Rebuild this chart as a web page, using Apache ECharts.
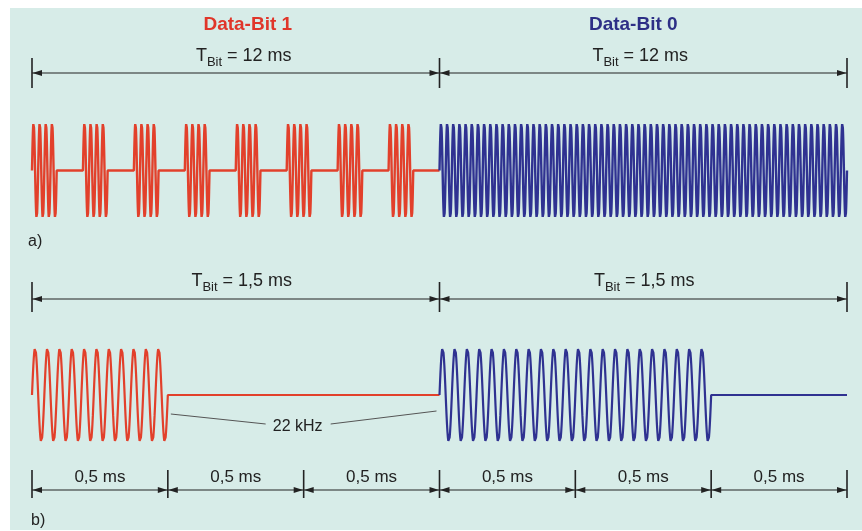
<!DOCTYPE html>
<html>
<head>
<meta charset="utf-8">
<script src="https://cdn.jsdelivr.net/npm/echarts@6/dist/echarts.min.js"></script>
<style>
html,body{margin:0;padding:0;background:#ffffff;}
#chart{width:862px;height:531px;}
</style>
</head>
<body>
<div id="chart"></div>
<script>
// ---------------- DATA ----------------
// Panel a): two bits of 12 ms each; the carrier runs at about 5.5 cycles per ms in the drawing
const bitTitles = ['Data-Bit 1', 'Data-Bit 0'];
const panelA_range = [0, 24];                 // ms
const panelA_carrierPerMs = 5.5;
const panelA_bit1BurstStarts = [0, 1.5, 3, 4.5, 6, 7.5, 9, 10.5]; // ms
const panelA_bit1BurstCycles = [4, 4, 4, 4, 4, 4, 4, 4];
const panelA_bit1End = 12;
const panelA_bit0BurstStarts = [12];
const panelA_bit0BurstCycles = [66];
const panelA_bit0End = 24;

// Panel b): two bits of 1.5 ms each; 22 kHz carrier
const panelB_range = [0, 3];                  // ms
const panelB_carrierPerMs = 22;               // 22 kHz
const panelB_bit1BurstStarts = [0];
const panelB_bit1BurstCycles = [11];
const panelB_bit1End = 1.5;
const panelB_bit0BurstStarts = [1.5];
const panelB_bit0BurstCycles = [22];
const panelB_bit0End = 3;

// Dimension lines (ms) and their labels
const dimA = [[0, 12], [12, 24]];
const dimALabels = ['12 ms', '12 ms'];
const dimBTop = [[0, 1.5], [1.5, 3]];
const dimBTopLabels = ['1,5 ms', '1,5 ms'];
const dimBBottom = [[0, 0.5], [0.5, 1], [1, 1.5], [1.5, 2], [2, 2.5], [2.5, 3]];
const dimBBottomLabels = ['0,5 ms', '0,5 ms', '0,5 ms', '0,5 ms', '0,5 ms', '0,5 ms'];
const carrierLabel = '22 kHz';
const panelLabels = ['a)', 'b)'];

// ---------------- BUILD ----------------
const RED = '#e2402b';
const BLUE = '#2f3291';
const INK = '#222222';
const FONT = '"Liberation Sans", Arial, Helvetica, sans-serif';
const BG = '#d7ece8';

function buildSignal(starts, cycles, f, end) {
  const pts = [];
  for (let i = 0; i < starts.length; i++) {
    const s = starts[i];
    const dur = cycles[i] / f;
    const n = cycles[i] * 28;
    for (let k = 0; k <= n; k++) {
      const t = s + dur * k / n;
      pts.push([t, Math.sin(2 * Math.PI * f * (t - s))]);
    }
    const next = i + 1 < starts.length ? starts[i + 1] : end;
    pts.push([next, 0]);
  }
  return pts;
}

const aRed = buildSignal(panelA_bit1BurstStarts, panelA_bit1BurstCycles, panelA_carrierPerMs, panelA_bit1End);
const aBlue = buildSignal(panelA_bit0BurstStarts, panelA_bit0BurstCycles, panelA_carrierPerMs, panelA_bit0End);
const bRed = buildSignal(panelB_bit1BurstStarts, panelB_bit1BurstCycles, panelB_carrierPerMs, panelB_bit1End);
const bBlue = buildSignal(panelB_bit0BurstStarts, panelB_bit0BurstCycles, panelB_carrierPerMs, panelB_bit0End);

const chart = echarts.init(document.getElementById('chart'), null, {renderer: 'canvas'});

function lineSeries(data, color, gi, w) {
  return {
    type: 'line', xAxisIndex: gi, yAxisIndex: gi, data: data,
    showSymbol: false, symbol: 'none', clip: false, animation: false,
    lineStyle: {color: color, width: w}, silent: true
  };
}

chart.setOption({
  animation: false,
  backgroundColor: '#ffffff',
  grid: [
    {left: 32, right: 15, top: 123, height: 95},
    {left: 32, right: 15, top: 348, height: 94}
  ],
  xAxis: [
    {type: 'value', gridIndex: 0, min: panelA_range[0], max: panelA_range[1], show: false},
    {type: 'value', gridIndex: 1, min: panelB_range[0], max: panelB_range[1], show: false}
  ],
  yAxis: [
    {type: 'value', gridIndex: 0, min: -1, max: 1, show: false},
    {type: 'value', gridIndex: 1, min: -1, max: 1, show: false}
  ],
  series: [
    lineSeries(aRed, RED, 0, 2.4),
    lineSeries(aBlue, BLUE, 0, 2.4),
    lineSeries(bRed, RED, 1, 2.2),
    lineSeries(bBlue, BLUE, 1, 2.2)
  ]
});

function px(gi, x) { return chart.convertToPixel({gridIndex: gi}, [x, 0])[0]; }

const g = [];
g.push({type: 'rect', shape: {x: 10, y: 8, width: 852, height: 522}, style: {fill: BG}, z: -10, silent: true});

function dimRow(gi, segs, y, up, down, labels, labelY, sub, shift) {
  const xs = new Set();
  segs.forEach((sg, i) => {
    const x0 = px(gi, sg[0]), x1 = px(gi, sg[1]);
    xs.add(x0); xs.add(x1);
    g.push({type: 'line', shape: {x1: x0, y1: y, x2: x1, y2: y}, style: {stroke: INK, lineWidth: 1.2}, silent: true});
    g.push({type: 'polygon', shape: {points: [[x0 + 0.5, y], [x0 + 10, y - 3], [x0 + 10, y + 3]]}, style: {fill: INK}, silent: true});
    g.push({type: 'polygon', shape: {points: [[x1 - 0.5, y], [x1 - 10, y - 3], [x1 - 10, y + 3]]}, style: {fill: INK}, silent: true});
    const cx = (x0 + x1) / 2 + (shift ? shift[i] : 0);
    if (sub) {
      g.push({type: 'text', x: cx, y: labelY, silent: true, style: {
        text: '{m|T}{s|Bit}{m| = ' + labels[i] + '}',
        align: 'center', verticalAlign: 'middle',
        rich: {
          m: {fontSize: 18, fontFamily: FONT, fill: INK, padding: [0, 0, 3, 0], verticalAlign: 'bottom', lineHeight: 19},
          s: {fontSize: 13, fontFamily: FONT, fill: INK, verticalAlign: 'bottom', lineHeight: 14}
        }
      }});
    } else {
      g.push({type: 'text', x: cx, y: labelY, silent: true, style: {
        text: labels[i], align: 'center', verticalAlign: 'middle', font: '17px ' + FONT, fill: INK
      }});
    }
  });
  xs.forEach(x => {
    g.push({type: 'line', shape: {x1: x, y1: y - up, x2: x, y2: y + down}, style: {stroke: INK, lineWidth: 1.6}, silent: true});
  });
}

// Titles
[[6, bitTitles[0], '#e0362a'], [18, bitTitles[1], '#2d2f86']].forEach((t, i) => {
  g.push({type: 'text', x: px(0, t[0]) + (i === 0 ? 12 : -10), y: 25, silent: true, style: {
    text: t[1], align: 'center', verticalAlign: 'middle', font: 'bold 19px ' + FONT, fill: t[2]
  }});
});

dimRow(0, dimA, 73, 15, 15, dimALabels, 59, true, [8, -3]);
dimRow(1, dimBTop, 299, 17, 13, dimBTopLabels, 284, true, [6, 1]);
dimRow(1, dimBBottom, 490, 20, 8, dimBBottomLabels, 477, false, null);

// 22 kHz annotation
const xL = px(1, 0.5), xR = px(1, 1.5);
const lx = (xL + xR) / 2 - 6;
g.push({type: 'text', x: lx, y: 427, silent: true, style: {
  text: carrierLabel, align: 'center', verticalAlign: 'middle', font: '16px ' + FONT, fill: INK
}});
g.push({type: 'line', shape: {x1: xL + 3, y1: 414, x2: lx - 32, y2: 424}, style: {stroke: '#555', lineWidth: 1}, silent: true});
g.push({type: 'line', shape: {x1: lx + 33, y1: 424, x2: xR - 3, y2: 411}, style: {stroke: '#555', lineWidth: 1}, silent: true});

// Panel labels
g.push({type: 'text', x: 28, y: 242, silent: true, style: {text: panelLabels[0], align: 'left', verticalAlign: 'middle', font: '16px ' + FONT, fill: INK}});
g.push({type: 'text', x: 31, y: 521, silent: true, style: {text: panelLabels[1], align: 'left', verticalAlign: 'middle', font: '16px ' + FONT, fill: INK}});

chart.setOption({graphic: g});
</script>
</body>
</html>
